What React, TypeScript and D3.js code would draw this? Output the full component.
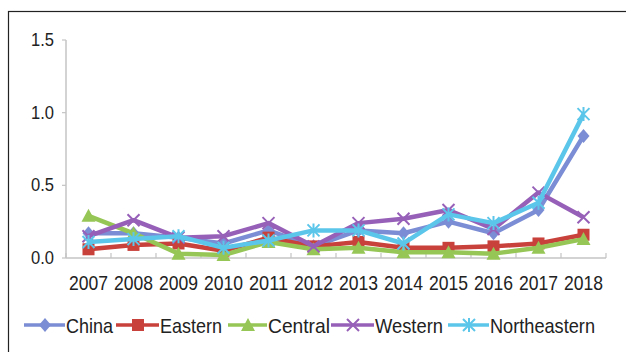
import React from "react";
import * as d3 from "d3";

const years = ["2007", "2008", "2009", "2010", "2011", "2012", "2013", "2014", "2015", "2016", "2017", "2018"];
const china = [0.17, 0.17, 0.14, 0.1, 0.19, 0.08, 0.19, 0.17, 0.25, 0.17, 0.33, 0.84];
const eastern = [0.06, 0.09, 0.1, 0.05, 0.14, 0.08, 0.11, 0.07, 0.07, 0.08, 0.1, 0.16];
const central = [0.29, 0.17, 0.03, 0.02, 0.11, 0.06, 0.07, 0.04, 0.04, 0.03, 0.07, 0.13];
const western = [0.15, 0.26, 0.14, 0.15, 0.24, 0.08, 0.24, 0.27, 0.33, 0.2, 0.45, 0.28];
const northeastern = [0.11, 0.13, 0.15, 0.07, 0.12, 0.19, 0.19, 0.1, 0.3, 0.24, 0.38, 0.99];
const yTicks = [0, 0.5, 1.0, 1.5];

type Marker = "diamond" | "square" | "triangle" | "cross" | "star";
const series: { name: string; values: number[]; color: string; marker: Marker }[] = [
  { name: "China", values: china, color: "#7b8dd4", marker: "diamond" },
  { name: "Eastern", values: eastern, color: "#c9413b", marker: "square" },
  { name: "Central", values: central, color: "#96c656", marker: "triangle" },
  { name: "Western", values: western, color: "#9760b8", marker: "cross" },
  { name: "Northeastern", values: northeastern, color: "#5cc6ea", marker: "star" },
];

const FONT = "'Liberation Sans', Arial, sans-serif";

function MarkerShape({ type, x, y, color }: { type: Marker; x: number; y: number; color: string }) {
  const s = 6;
  switch (type) {
    case "diamond":
      return <path d={`M${x},${y - s - 1}L${x + s},${y}L${x},${y + s + 1}L${x - s},${y}Z`} fill={color} />;
    case "square":
      return <rect x={x - s} y={y - s} width={2 * s} height={2 * s} fill={color} />;
    case "triangle":
      return <path d={`M${x},${y - s - 1}L${x + s + 1},${y + s}L${x - s - 1},${y + s}Z`} fill={color} />;
    case "cross":
      return (
        <path d={`M${x - s},${y - s}L${x + s},${y + s}M${x - s},${y + s}L${x + s},${y - s}`} stroke={color} strokeWidth={2} />
      );
    case "star":
      return (
        <path
          d={`M${x - s},${y - s}L${x + s},${y + s}M${x - s},${y + s}L${x + s},${y - s}M${x},${y - s - 1}L${x},${y + s + 1}`}
          stroke={color}
          strokeWidth={2}
        />
      );
  }
}

export default function App() {
  const left = 66;
  const right = 606;
  const top = 40;
  const bottom = 258;

  const x = d3.scaleBand<string>().domain(years).range([left, right]);
  const y = d3.scaleLinear().domain([0, 1.5]).range([bottom, top]);
  const cx = (yr: string) => (x(yr) as number) + x.bandwidth() / 2;

  const line = d3
    .line<number>()
    .x((_, i) => cx(years[i]))
    .y((d) => y(d));

  const boundaries = d3.range(years.length + 1).map((i) => left + i * x.bandwidth());

  const legendItems = [
    { lx: 24, tx: 66, w: 47 },
    { lx: 116, tx: 160, w: 62 },
    { lx: 228, tx: 268, w: 62 },
    { lx: 331, tx: 375, w: 68 },
    { lx: 448, tx: 490, w: 105 },
  ];
  const legendY = 325;

  return (
    <svg width={626} height={352} style={{ position: "absolute", left: 0, top: 0, background: "#fff" }}>
      <rect x={8.5} y={11.5} width={630} height={360} fill="none" stroke="#222" strokeWidth={1.2} />

      {/* y axis */}
      <line x1={left} x2={left} y1={top} y2={bottom} stroke="#c4c4c4" strokeWidth={1.5} />
      {yTicks.map((t) => (
        <g key={t}>
          <line x1={left - 4} x2={left} y1={y(t)} y2={y(t)} stroke="#c4c4c4" strokeWidth={1.2} />
          <text
            x={54}
            y={y(t) + 6}
            textAnchor="end"
            fontFamily={FONT}
            fontSize={18}
            fill="#222"
            textLength={23}
            lengthAdjust="spacingAndGlyphs"
          >
            {d3.format(".1f")(t)}
          </text>
        </g>
      ))}

      {/* x axis */}
      <line x1={left} x2={right} y1={bottom} y2={bottom} stroke="#c4c4c4" strokeWidth={1.5} />
      {boundaries.map((b, i) => (
        <line key={i} x1={b} x2={b} y1={bottom} y2={bottom - 5} stroke="#c4c4c4" strokeWidth={1.2} />
      ))}
      {years.map((yr) => (
        <text
          key={yr}
          x={cx(yr)}
          y={290}
          textAnchor="middle"
          fontFamily={FONT}
          fontSize={21}
          fill="#222"
          textLength={39}
          lengthAdjust="spacingAndGlyphs"
        >
          {yr}
        </text>
      ))}

      {/* series */}
      {series.map((s) => (
        <g key={s.name}>
          <path d={line(s.values) || ""} fill="none" stroke={s.color} strokeWidth={4.5} strokeLinejoin="round" />
          {s.values.map((v, i) => (
            <MarkerShape key={i} type={s.marker} x={cx(years[i])} y={y(v)} color={s.color} />
          ))}
        </g>
      ))}

      {/* legend */}
      {series.map((s, i) => {
        const it = legendItems[i];
        const mid = (it.lx + it.tx) / 2;
        return (
          <g key={s.name}>
            <line x1={it.lx} x2={it.tx - 1} y1={legendY} y2={legendY} stroke={s.color} strokeWidth={3.5} />
            <MarkerShape type={s.marker} x={mid} y={legendY} color={s.color} />
            <text
              x={it.tx}
              y={legendY + 7.5}
              fontFamily={FONT}
              fontSize={21}
              fill="#222"
              textLength={it.w}
              lengthAdjust="spacingAndGlyphs"
            >
              {s.name}
            </text>
          </g>
        );
      })}
    </svg>
  );
}
